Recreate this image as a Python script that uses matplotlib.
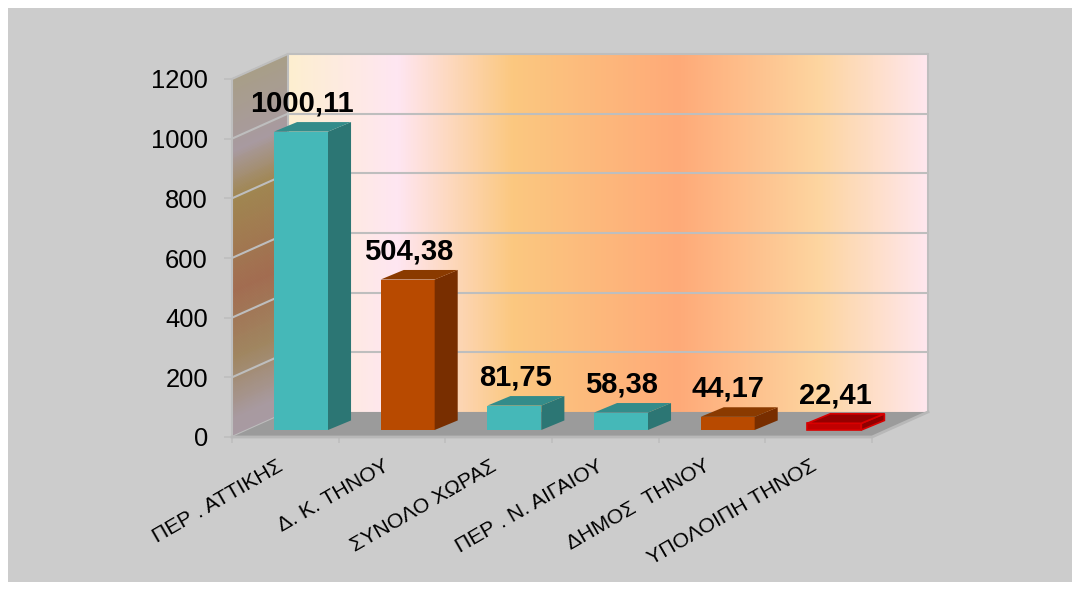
import numpy as np
import matplotlib
matplotlib.use("Agg")
import matplotlib.pyplot as plt
from matplotlib.patches import Polygon, Rectangle
from matplotlib.collections import PolyCollection
from matplotlib.colors import LinearSegmentedColormap

plt.rcParams['font.family'] = ['Liberation Sans', 'DejaVu Sans']

categories = ["ΠΕΡ . ΑΤΤΙΚΗΣ", "Δ. Κ. ΤΗΝΟΥ", "ΣΥΝΟΛΟ ΧΩΡΑΣ",
              "ΠΕΡ . Ν. ΑΙΓΑΙΟΥ", "ΔΗΜΟΣ  ΤΗΝΟΥ", "ΥΠΟΛΟΙΠΗ ΤΗΝΟΣ"]
values = [1000.11, 504.38, 81.75, 58.38, 44.17, 22.41]
yticks = [0, 200, 400, 600, 800, 1000, 1200]

front_colors = ['#45B8B8', '#B84A00', '#45B8B8', '#45B8B8', '#B84A00', '#C00000']
side_colors = ['#2C7674', '#782E00', '#2C7674', '#2C7674', '#782E00', '#8F0000']
top_colors = ['#338C8A', '#8A3A00', '#338C8A', '#338C8A', '#8A3A00', '#950000']
edge_colors = ['none', 'none', 'none', 'none', 'none', '#D80000']

W, H = 1080, 590
fig = plt.figure(figsize=(W / 100, H / 100), dpi=100, facecolor='white')
fig.patches.append(Rectangle((8 / W, 8 / H), 1064 / W, 574 / H, transform=fig.transFigure,
                             facecolor='#CCCCCC', edgecolor='none', zorder=-10))
ax = fig.add_axes([232 / W, (H - 437) / H, 640 / W, 358 / H])
ax.patch.set_visible(False)
for s in ax.spines.values():
    s.set_visible(False)

DX, DY = 0.525, 84.0        # depth of the floor, in data units
GRID = '#BEBEBE'

# back wall
wall = LinearSegmentedColormap.from_list('wall', [
    (0.00, '#FDEFD0'), (0.17, '#FFE6F2'), (0.35, '#FBC880'),
    (0.61, '#FFAA78'), (0.83, '#FDD5A0'), (1.00, '#FFE7EE')])
ax.imshow(np.linspace(0, 1, 512).reshape(1, -1), cmap=wall, aspect='auto',
          extent=(DX, 6 + DX, DY, 1200 + DY), zorder=1, clip_on=False)

# left wall: sheared gradient built from thin strips
lw_cmap = LinearSegmentedColormap.from_list('lwall', [
    (0.00, '#A89AA2'), (0.05, '#A89AA0'), (0.22, '#A08660'), (0.41, '#A26C50'),
    (0.667, '#A08650'), (0.80, '#A89AA0'), (1.00, '#A89E88')])
n_strips = 240
fr = np.linspace(0, 1, n_strips + 1)
strips = [[(0, a * 1200), (DX, a * 1200 + DY), (DX, b * 1200 + DY), (0, b * 1200)]
          for a, b in zip(fr[:-1], fr[1:])]
strip_colors = lw_cmap((fr[:-1] + fr[1:]) / 2)
ax.add_collection(PolyCollection(strips, facecolors=strip_colors, edgecolors=strip_colors,
                                 linewidths=0.6, zorder=1, clip_on=False), autolim=False)

# floor
ax.add_patch(Polygon([(0, 0), (DX, DY), (6 + DX, DY), (6, 0)], closed=True,
                     facecolor='#9B9B9B', edgecolor='none', zorder=3, clip_on=False))
ax.plot([0, 6, 6 + DX], [0, 0, DY], color='#B8B8B8', lw=2, zorder=3.5, clip_on=False)

# grid and wall edges
for t in yticks:
    kw = dict(color=GRID, lw=1.5, zorder=2, clip_on=False, solid_capstyle='butt')
    if t > 0:
        ax.plot([DX, 6 + DX], [t + DY, t + DY], **kw)
    ax.plot([0, DX], [t, t + DY], **kw)
ax.plot([0, 0], [0, 1200], color=GRID, lw=1.5, zorder=2, clip_on=False)
ax.plot([DX, DX], [DY, 1200 + DY], color=GRID, lw=1.5, zorder=2, clip_on=False)
ax.plot([6 + DX, 6 + DX], [DY, 1200 + DY], color=GRID, lw=1.5, zorder=2, clip_on=False)

# bars
BW = 0.506
BO = 0.647
BASE = 23.5
SX, SY = 0.216, 32.0
centers = np.arange(len(values)) + BO
ax.bar(centers, values, width=BW, bottom=BASE, color=front_colors,
       edgecolor=edge_colors, linewidth=1.2, zorder=4, clip_on=False)
for xc, v, sc, tc, ec in zip(centers, values, side_colors, top_colors, edge_colors):
    l, r = xc - BW / 2, xc + BW / 2
    top = BASE + v
    ax.add_patch(Polygon([(r, BASE), (r + SX, BASE + SY), (r + SX, top + SY), (r, top)],
                         closed=True, facecolor=sc, edgecolor=ec, lw=1.2, zorder=4, clip_on=False))
    ax.add_patch(Polygon([(l, top), (l + SX, top + SY), (r + SX, top + SY), (r, top)],
                         closed=True, facecolor=tc, edgecolor=ec, lw=1.2, zorder=4, clip_on=False))
    ax.annotate(f"{v:.2f}".replace('.', ','), (xc, top), xytext=(0.5, 20.2),
                textcoords='offset points', ha='center', va='center',
                fontsize=21, fontweight='bold', color='black', zorder=6, annotation_clip=False)

# axes
ax.set_xlim(0, 6)
ax.set_ylim(0, 1200)
ax.set_yticks(yticks)
ax.set_yticklabels([str(t) for t in yticks], fontsize=18.4, color='black')
ax.tick_params(axis='y', length=5.8, width=1.2, color=GRID, pad=11.5)
ax.set_xticks(np.arange(7))
ax.set_xticklabels([])
ax.tick_params(axis='x', which='major', length=4, width=1.2, color=GRID)
ax.set_xticks(np.arange(6) + 0.42, minor=True)
ax.set_xticklabels(categories, minor=True, fontsize=15.3, rotation=30, ha='right',
                   va='top', rotation_mode='anchor', color='black')
ax.tick_params(axis='x', which='minor', length=0, pad=14)

fig.savefig('out.png', dpi=100, facecolor='white')
